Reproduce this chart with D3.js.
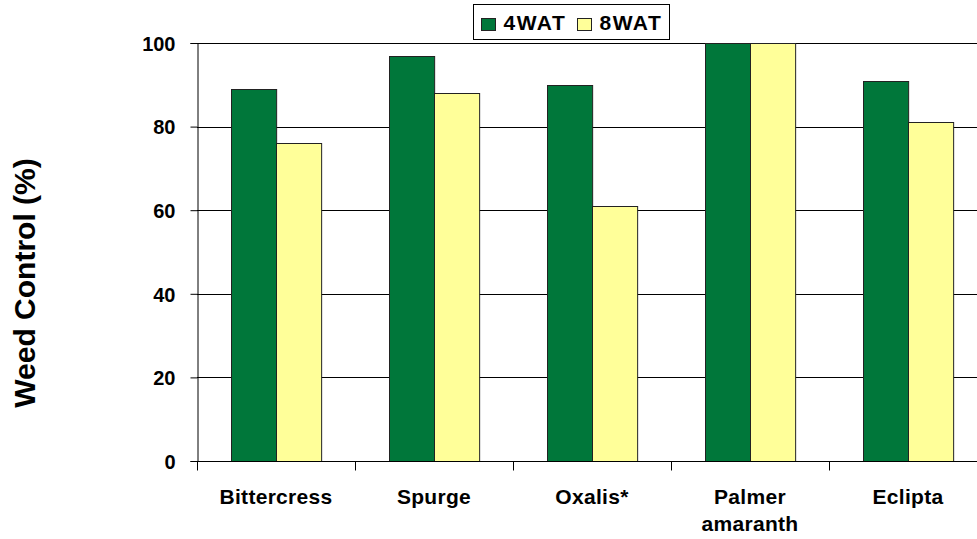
<!DOCTYPE html>
<html>
<head>
<meta charset="utf-8">
<script src="https://cdn.jsdelivr.net/npm/d3@7"></script>
<style>
  body { margin: 0; background: #fff; }
  text { font-family: Arial, "Liberation Sans", sans-serif; font-weight: bold; fill: #000; }
</style>
</head>
<body>
<div id="chart"></div>
<script>
// Weed control data
const categories = ['Bittercress', 'Spurge', 'Oxalis*', 'Palmer\namaranth', 'Eclipta'];
const seriesNames = ['4WAT', '8WAT'];
const wat4 = [89, 97, 90, 100, 91];
const wat8 = [76, 88, 61, 100, 81];
const yTicks = [0, 20, 40, 60, 80, 100];
const colors = ['#00773a', '#ffff99'];

const width = 977;
const height = 539;
const margin = { top: 43, right: -10, bottom: 78, left: 197 };

const svg = d3.select('#chart')
    .append('svg')
    .attr('width', width)
    .attr('height', height);

const x = d3.scaleBand()
    .domain(categories)
    .range([margin.left, width - margin.right])
    .paddingInner(0)
    .paddingOuter(0);

const xInner = d3.scaleBand()
    .domain(seriesNames)
    .range([0, x.bandwidth()])
    .paddingOuter(0.75)
    .paddingInner(0);

const y = d3.scaleLinear()
    .domain([0, 100])
    .range([height - margin.bottom, margin.top]);

// gridlines
svg.append('g')
    .selectAll('line')
    .data(yTicks.filter(d => d > 0))
    .enter()
    .append('line')
    .attr('x1', margin.left)
    .attr('x2', width)
    .attr('y1', d => Math.round(y(d)) + 0.5)
    .attr('y2', d => Math.round(y(d)) + 0.5)
    .attr('stroke', '#000')
    .attr('stroke-width', 1);

// bars
const rows = categories.map((c, i) => ({ cat: c, vals: [wat4[i], wat8[i]] }));

svg.append('g')
    .selectAll('g')
    .data(rows)
    .enter()
    .append('g')
    .attr('transform', d => `translate(${x(d.cat)},0)`)
    .selectAll('rect')
    .data(d => d.vals.map((v, j) => ({ key: seriesNames[j], v, j })))
    .enter()
    .append('rect')
    .attr('x', d => Math.round(xInner(d.key)) + 0.5)
    .attr('y', d => Math.round(y(d.v)) + 0.5)
    .attr('width', xInner.bandwidth())
    .attr('height', d => y(0) - Math.round(y(d.v)))
    .attr('fill', d => colors[d.j])
    .attr('stroke', '#222')
    .attr('stroke-width', 1);

// y axis
const yAxis = svg.append('g')
    .attr('transform', `translate(${margin.left + 0.5},0)`)
    .call(d3.axisLeft(y).tickValues(yTicks).tickSize(7).tickPadding(15));
yAxis.select('.domain').attr('stroke', '#000');
yAxis.selectAll('.tick line').attr('stroke', '#000');
yAxis.selectAll('text').style('font-size', '20px').attr('dy', '0.36em');

// x axis
const xAxis = svg.append('g')
    .attr('transform', `translate(0,${Math.round(y(0)) + 0.5})`);
xAxis.append('line')
    .attr('x1', margin.left)
    .attr('x2', width)
    .attr('stroke', '#000');
xAxis.selectAll('.xtick')
    .data(categories)
    .enter()
    .append('line')
    .attr('class', 'xtick')
    .attr('x1', d => Math.round(x(d)) + 0.5)
    .attr('x2', d => Math.round(x(d)) + 0.5)
    .attr('y1', 0)
    .attr('y2', 9)
    .attr('stroke', '#000');

xAxis.selectAll('.xlabel')
    .data(categories)
    .enter()
    .append('text')
    .attr('class', 'xlabel')
    .attr('text-anchor', 'middle')
    .attr('x', d => x(d) + x.bandwidth() / 2)
    .attr('y', 42)
    .style('font-size', '21px')
    .style('letter-spacing', '0.3px')
    .each(function(d) {
        const lines = d.split('\n');
        lines.forEach((l, i) => {
            d3.select(this).append('tspan')
                .attr('x', x(d) + x.bandwidth() / 2)
                .attr('dy', i === 0 ? 0 : 27)
                .text(l);
        });
    });

// y label
svg.append('text')
    .attr('transform', 'translate(35,283) rotate(-90)')
    .attr('text-anchor', 'middle')
    .style('font-size', '30px')
    .text('Weed Control (%)');

// legend
const legend = svg.append('g').attr('transform', 'translate(473.5,4.5)');
legend.append('rect')
    .attr('width', 196)
    .attr('height', 35)
    .attr('fill', '#fff')
    .attr('stroke', '#000');

const legendX = [8, 104];
seriesNames.forEach((s, i) => {
    legend.append('rect')
        .attr('x', legendX[i])
        .attr('y', 14)
        .attr('width', 14)
        .attr('height', 12)
        .attr('fill', colors[i])
        .attr('stroke', '#222');
    legend.append('text')
        .attr('x', legendX[i] + 22)
        .attr('y', 25)
        .style('font-size', '21px')
        .style('letter-spacing', '1.5px')
        .text(s);
});
</script>
</body>
</html>
